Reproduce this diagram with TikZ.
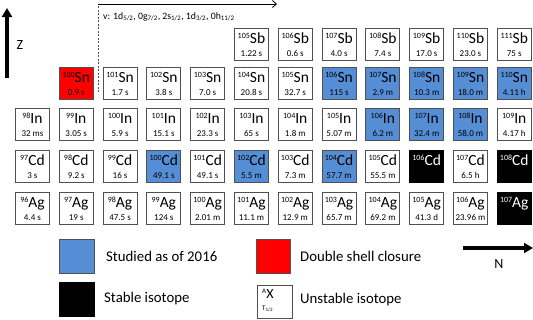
\documentclass[tikz,border=0pt]{standalone}
\usepackage{fontspec}
\setmainfont{Carlito}
\usetikzlibrary{arrows.meta,calc}
\definecolor{studied}{RGB}{85,142,213}
\definecolor{edge}{RGB}{80,80,80}
\newcommand\symfont{\fontsize{15.5}{15.5}\selectfont}
\newcommand\supfont{\fontsize{8}{8}\selectfont}
\newcommand\halffont{\fontsize{9}{9}\selectfont}
\newcommand\legfont{\fontsize{14.8}{15}\selectfont}
\newcommand\isosym[2]{\raisebox{5.5pt}{\supfont #1}\symfont #2}
\begin{document}
\begin{tikzpicture}[x=1pt,y=-1pt,
  cellbox/.style={draw=edge,line width=0.9pt,minimum width=34pt,minimum height=32pt,anchor=north west,inner sep=0pt},
  symlabel/.style={anchor=base,inner sep=0pt},
  halflabel/.style={anchor=base,inner sep=0pt,font=\halffont},
  legtext/.style={anchor=west,inner sep=0pt,font=\legfont},
  bigarrow/.style={line width=3.5pt,-{Triangle[length=9pt,width=10pt]}}]
\path[use as bounding box] (0,0) rectangle (533,319);
% Sb row
\foreach \n/\a/\t/\fc in {54/105/1.22 s/white,55/106/0.6 s/white,56/107/4.0 s/white,57/108/7.4 s/white,58/109/17.0 s/white,59/110/23.0 s/white,60/111/75 s/white}{
  \node[cellbox,fill=\fc] (Sb\a) at ({15+43.8*(\n-49)},28) {};
  \node[symlabel] at ($(Sb\a.north)+(0,15.5)$) {\isosym{\a}{Sb}};
  \node[halflabel] at ($(Sb\a.north)+(0,28)$) {\t};
}
% Sn row
\foreach \n/\a/\t/\fc in {50/100/0.9 s/red,51/101/1.7 s/white,52/102/3.8 s/white,53/103/7.0 s/white,54/104/20.8 s/white,55/105/32.7 s/white,56/106/115 s/studied,57/107/2.9 m/studied,58/108/10.3 m/studied,59/109/18.0 m/studied,60/110/4.11 h/studied}{
  \node[cellbox,fill=\fc] (Sn\a) at ({15+43.8*(\n-49)},67) {};
  \node[symlabel] at ($(Sn\a.north)+(0,15.5)$) {\isosym{\a}{Sn}};
  \node[halflabel] at ($(Sn\a.north)+(0,28)$) {\t};
}
% In row
\foreach \n/\a/\t/\fc in {49/98/32 ms/white,50/99/3.05 s/white,51/100/5.9 s/white,52/101/15.1 s/white,53/102/23.3 s/white,54/103/65 s/white,55/104/1.8 m/white,56/105/5.07 m/white,57/106/6.2 m/studied,58/107/32.4 m/studied,59/108/58.0 m/studied,60/109/4.17 h/white}{
  \node[cellbox,fill=\fc] (In\a) at ({15+43.8*(\n-49)},108) {};
  \node[symlabel] at ($(In\a.north)+(0,15.5)$) {\isosym{\a}{In}};
  \node[halflabel] at ($(In\a.north)+(0,28)$) {\t};
}
% Cd row
\foreach \n/\a/\t/\fc in {49/97/3 s/white,50/98/9.2 s/white,51/99/16 s/white,52/100/49.1 s/studied,53/101/49.1 s/white,54/102/5.5 m/studied,55/103/7.3 m/white,56/104/57.7 m/studied,57/105/55.5 m/white,59/107/6.5 h/white}{
  \node[cellbox,fill=\fc] (Cd\a) at ({15+43.8*(\n-49)},150) {};
  \node[symlabel] at ($(Cd\a.north)+(0,15.5)$) {\isosym{\a}{Cd}};
  \node[halflabel] at ($(Cd\a.north)+(0,28)$) {\t};
}
\foreach \n/\a in {58/106,60/108}{
  \node[cellbox,fill=black,draw=black] (Cd\a) at ({15+43.8*(\n-49)},150) {};
  \node[symlabel,text=white] at ($(Cd\a.north)+(0,15.5)$) {\isosym{\a}{Cd}};
}
% Ag row
\foreach \n/\a/\t/\fc in {49/96/4.4 s/white,50/97/19 s/white,51/98/47.5 s/white,52/99/124 s/white,53/100/2.01 m/white,54/101/11.1 m/white,55/102/12.9 m/white,56/103/65.7 m/white,57/104/69.2 m/white,58/105/41.3 d/white,59/106/23.96 m/white}{
  \node[cellbox,fill=\fc] (Ag\a) at ({15+43.8*(\n-49)},192) {};
  \node[symlabel] at ($(Ag\a.north)+(0,15.5)$) {\isosym{\a}{Ag}};
  \node[halflabel] at ($(Ag\a.north)+(0,28)$) {\t};
}
\node[cellbox,fill=black,draw=black] (Ag107) at ({15+43.8*11},192) {};
\node[symlabel,text=white] at ($(Ag107.north)+(0,15.5)$) {\isosym{107}{Ag}};
% valence space marker
\coordinate (vbot) at (98,92);
\coordinate (vtop) at (98,4);
\coordinate (vend) at (277,4);
\draw[edge,line width=0.8pt,dash pattern=on 2pt off 1.5pt] (vbot) -- (vtop);
\draw[black,line width=0.8pt,-{Straight Barb[length=4pt,width=7pt]}] (vtop) -- (vend);
\node[anchor=base west,inner sep=0pt,font=\fontsize{9.8}{10}\selectfont] (nu) at (103,19)
  {v: 1d\textsubscript{5/2}, 0g\textsubscript{7/2}, 2s\textsubscript{1/2}, 1d\textsubscript{3/2}, 0h\textsubscript{11/2}};
% axes
\coordinate (zlow) at (7,78);
\coordinate (zhigh) at (7,8);
\draw[bigarrow] (zlow) -- (zhigh);
\node[inner sep=0pt,font=\fontsize{14}{14}\selectfont] (Z) at (20,45) {Z};
\coordinate (nlow) at (463,248);
\coordinate (nhigh) at (533,248);
\draw[bigarrow] (nlow) -- (nhigh);
\node[inner sep=0pt,font=\fontsize{14}{14}\selectfont] (N) at (499,264) {N};
% legend
\node[draw=edge,line width=0.9pt,fill=studied,minimum width=35pt,minimum height=34pt,anchor=north west,inner sep=0pt] (lgblue) at (59,239) {};
\node[legtext] at (106,256) {Studied as of 2016};
\node[draw=edge,line width=0.9pt,fill=red,minimum width=34pt,minimum height=34pt,anchor=north west,inner sep=0pt] (lgred) at (256,239) {};
\node[legtext] at (300,256) {Double shell closure};
\node[draw=black,fill=black,minimum width=35pt,minimum height=34pt,anchor=north west,inner sep=0pt] (lgblack) at (59,282) {};
\node[legtext] at (104,299) {Stable isotope};
\node[cellbox,minimum width=35pt,minimum height=33pt] (lgwhite) at (257,285) {};
\node[anchor=base west,inner sep=0pt] at ($(lgwhite.north west)+(5,13)$) {\raisebox{5pt}{\fontsize{7}{7}\selectfont A}\fontsize{14}{14}\selectfont X};
\node[anchor=base west,inner sep=0pt,font=\fontsize{7}{7}\selectfont] at ($(lgwhite.north west)+(5,25)$) {T\textsubscript{1/2}};
\node[legtext] at (300,300) {Unstable isotope};
\end{tikzpicture}
\end{document}
